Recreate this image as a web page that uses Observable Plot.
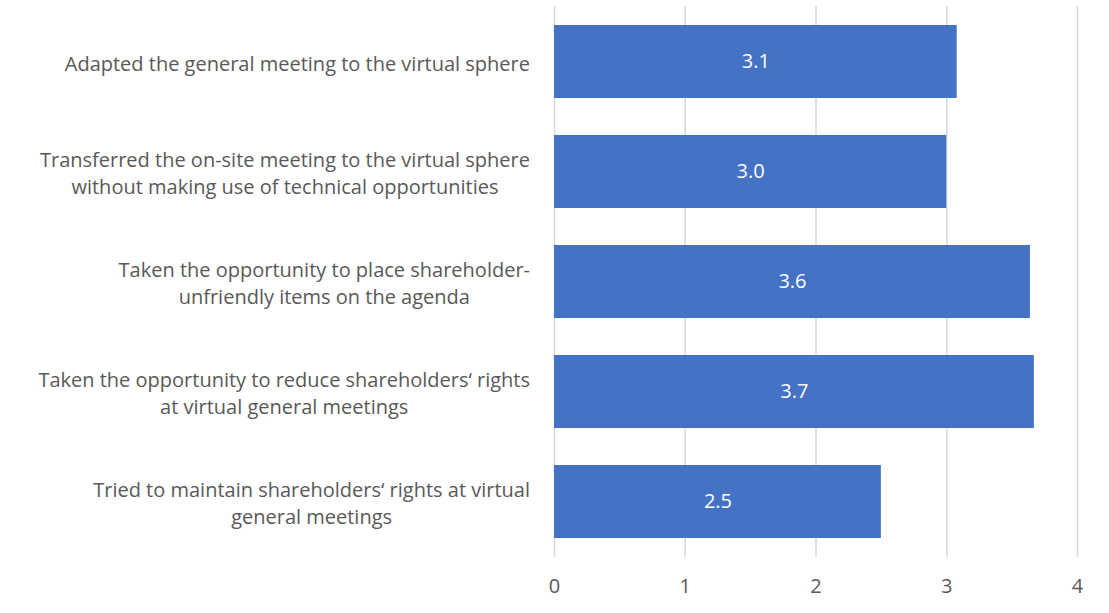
<!DOCTYPE html>
<html>
<head>
<meta charset="utf-8">
<script src="https://cdn.jsdelivr.net/npm/d3@7"></script>
<script src="https://cdn.jsdelivr.net/npm/@observablehq/plot@0.6"></script>
<style>
  html, body { margin: 0; padding: 0; background: white; }
  svg { display: block; }
</style>
</head>
<body>
<div id="chart"></div>
<script>
const categories = [
  "Adapted the general meeting to the virtual sphere",
  "Transferred the on-site meeting to the virtual sphere\nwithout making use of technical opportunities",
  "Taken the opportunity to place shareholder-\nunfriendly items on the agenda",
  "Taken the opportunity to reduce shareholders\u2018 rights\nat virtual general meetings",
  "Tried to maintain shareholders\u2018 rights at virtual\ngeneral meetings"
];
const values = [3.08, 3.0, 3.64, 3.67, 2.5];
const valueLabels = ["3.1", "3.0", "3.6", "3.7", "2.5"];
const xTicks = [0, 1, 2, 3, 4];

const data = categories.map((c, i) => ({category: c, value: values[i], label: valueLabels[i]}));

const textColor = "#595959";
const fs = 20;
const chart = Plot.plot({
  width: 1109,
  height: 613,
  marginLeft: 554,
  marginRight: 32,
  marginTop: 6,
  marginBottom: 56,
  style: {fontFamily: "'Open Sans', sans-serif", fontSize: fs + "px", color: textColor, background: "white"},
  x: {domain: [0, 4], ticks: xTicks},
  y: {domain: categories, paddingInner: 0.332, paddingOuter: 0.17, axis: null},
  marks: [
    Plot.gridX(xTicks, {stroke: "#d9d9d9", strokeOpacity: 1, strokeWidth: 1.5}),
    Plot.barX(data, {x: "value", y: "category", fill: "#4472C4"}),
    Plot.text(data, {x: d => d.value / 2, y: "category", text: "label", fill: "white", fontSize: fs}),
    Plot.axisX(xTicks, {tickSize: 0, tickPadding: 21, fontSize: fs, fill: textColor, label: null, tickFormat: d3.format("d")}),
    Plot.text(data, {frameAnchor: "left", y: "category", text: "category", textAnchor: "middle",
      lineAnchor: "middle", lineHeight: 1.35, fontSize: fs, fill: textColor, dx: -280, className: "ylab"})
  ]
});
document.getElementById("chart").appendChild(chart);

// Right-align each centered label block against the plot's left edge
const svgRect = chart.getBoundingClientRect();
const rightEdge = 554 - 24;
chart.querySelectorAll("g.ylab text").forEach(el => {
  const r = el.getBoundingClientRect();
  const shift = rightEdge - (r.right - svgRect.left);
  el.setAttribute("transform", (el.getAttribute("transform") || "") + ` translate(${shift},0)`);
});
</script>
</body>
</html>
